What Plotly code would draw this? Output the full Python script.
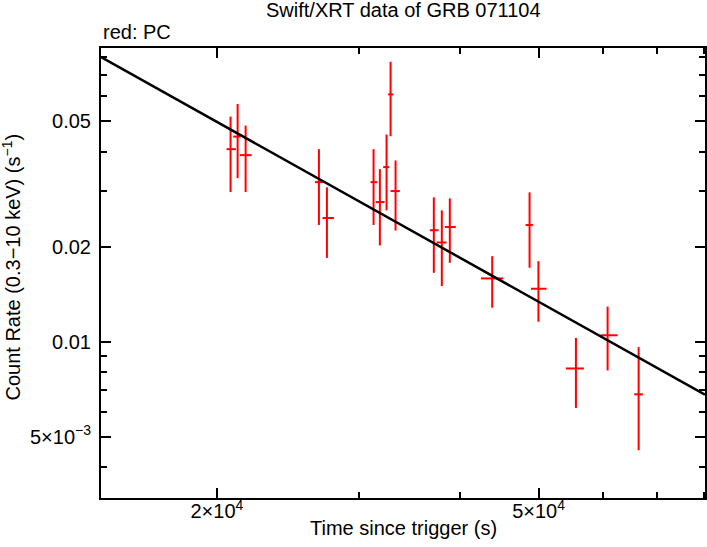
import plotly.graph_objects as go

# Swift/XRT PC mode light curve of GRB 071104
time_s = [20795, 21217, 21706, 26745, 27361, 31249, 31815, 32428, 32800, 33270,
          37101, 37956, 38830, 43814, 48733, 49975, 55609, 60859, 66480]
time_start = [20560, 20953, 21357, 26441, 27027, 30983, 31454, 32116, 32577, 32800,
              36680, 37386, 38281, 42427, 48182, 48914, 54048, 59658, 65652]
time_stop = [21113, 21400, 22081, 27074, 27912, 31571, 32244, 32670, 33043, 33678,
             37601, 38467, 39500, 45209, 49193, 51148, 56891, 62616, 67298]
rate = [0.04069, 0.04461, 0.03896, 0.03199, 0.02463, 0.03199, 0.02767, 0.03570,
        0.06068, 0.02998, 0.02253, 0.02060, 0.02307, 0.01585, 0.02341, 0.01470,
        0.008217, 0.01047, 0.006803]
rate_hi = [0.05161, 0.05659, 0.04833, 0.04069, 0.03080, 0.04069, 0.03518, 0.04526,
           0.07696, 0.03748, 0.02863, 0.02604, 0.02842, 0.01864, 0.02970, 0.01798,
           0.01027, 0.01290, 0.009601]
rate_lo = [0.02976, 0.03294, 0.02976, 0.02341, 0.01841, 0.02341, 0.02016, 0.02604,
           0.04472, 0.02248, 0.01651, 0.01499, 0.01776, 0.01280, 0.01713, 0.01156,
           0.006162, 0.008100, 0.004527]

# power-law model, end points
fit_t = [14380, 80300]
fit_rate = [0.0796, 0.00679]

x_ticks = [2e4, 5e4]
x_labels = ["2×10<sup>4</sup>", "5×10<sup>4</sup>"]
x_minor = [3e4, 4e4, 6e4, 7e4, 8e4]
y_ticks = [0.005, 0.01, 0.02, 0.05]
y_labels = ["5×10<sup>−3</sup>", "0.01", "0.02", "0.05"]
y_minor = [0.004, 0.006, 0.007, 0.008, 0.009, 0.03, 0.04, 0.06, 0.07, 0.08]

FONT = "Liberation Sans, Arial, sans-serif"


def main():
    fig = go.Figure()
    fig.add_trace(go.Scatter(
        x=time_s, y=rate, mode='markers',
        marker=dict(size=1, color='red'),
        error_x=dict(type='data', symmetric=False,
                     array=[b - a for a, b in zip(time_s, time_stop)],
                     arrayminus=[a - b for a, b in zip(time_s, time_start)],
                     color='red', thickness=2, width=0),
        error_y=dict(type='data', symmetric=False,
                     array=[b - a for a, b in zip(rate, rate_hi)],
                     arrayminus=[a - b for a, b in zip(rate, rate_lo)],
                     color='red', thickness=2, width=0),
        showlegend=False, hoverinfo='skip'))
    fig.add_trace(go.Scatter(x=fit_t, y=fit_rate, mode='lines',
                             line=dict(color='black', width=2.5),
                             showlegend=False, hoverinfo='skip'))

    axis_common = dict(type='log', showgrid=False, zeroline=False,
                       automargin=False,
                       showline=True, linecolor='black', linewidth=2,
                       mirror='ticks', ticks='inside', ticklen=10,
                       tickwidth=2, tickcolor='black',
                       tickfont=dict(family=FONT, size=20, color='black'))
    fig.update_xaxes(range=[4.1577, 4.9048], tickmode='array',
                     tickvals=x_ticks, ticktext=x_labels,
                     ticklabelstandoff=-6,
                     minor=dict(tickvals=x_minor, ticks='inside', ticklen=6,
                                tickwidth=2, tickcolor='black'),
                     **axis_common)
    fig.update_yaxes(range=[-2.4957, -1.0699], tickmode='array',
                     tickvals=y_ticks, ticktext=y_labels,
                     ticklabelstandoff=4,
                     minor=dict(tickvals=y_minor, ticks='inside', ticklen=6,
                                tickwidth=2, tickcolor='black'),
                     **axis_common)

    text_font = dict(family=FONT, size=20, color='black')
    fig.add_annotation(text="Swift/XRT data of GRB 071104", x=0.5, y=1.0844,
                       xref='paper', yref='paper', showarrow=False,
                       xanchor='center', yanchor='middle', font=text_font)
    fig.add_annotation(text="red: PC", x=0, y=1.0356,
                       xref='paper', yref='paper', showarrow=False,
                       xanchor='left', yanchor='middle', font=text_font)
    fig.add_annotation(text="Time since trigger (s)", x=0.5, y=-0.0667,
                       xref='paper', yref='paper', showarrow=False,
                       xanchor='center', yanchor='middle', font=text_font)
    fig.add_annotation(text="Count Rate (0.3−10 keV) (s<sup>−1</sup>)",
                       x=-0.1498, y=0.5133, xref='paper', yref='paper',
                       showarrow=False, textangle=-90,
                       xanchor='center', yanchor='middle', font=text_font)

    fig.update_layout(width=707, height=547,
                      margin=dict(l=101, r=2, t=48, b=49),
                      plot_bgcolor='white', paper_bgcolor='white',
                      font=dict(family=FONT, color='black'))
    # page default margin would shift the figure
    fig.write_html("out.html", config={'displayModeBar': False},
                   post_script="document.body.style.margin='0';")


if __name__ == "__main__":
    main()
